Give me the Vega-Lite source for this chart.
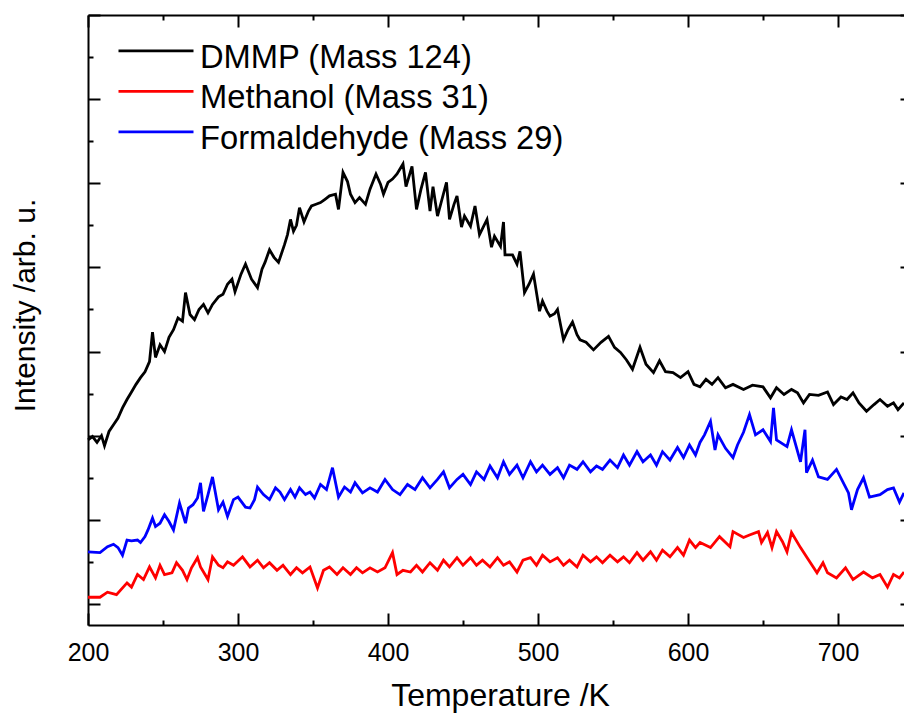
{
  "$schema": "https://vega.github.io/schema/vega-lite/v6.json",
  "autosize": {"type": "none"},
  "padding": {"left": 88, "top": 15, "right": 0, "bottom": 90},
  "width": 816,
  "height": 610,
  "background": "white",
  "config": {
    "view": {"stroke": null},
    "font": "Liberation Sans",
    "axis": {"grid": false, "tickColor": "black", "tickWidth": 2, "domainColor": "black", "domainWidth": 2, "labelColor": "black", "titleColor": "black", "labelFont": "Liberation Sans", "titleFont": "Liberation Sans", "titleFontWeight": "normal"}
  },
  "datasets": {
    "dmmp": [{"T":200,"I":1.95},{"T":203,"I":1.99},{"T":206,"I":1.92},{"T":209,"I":2.00},{"T":211,"I":1.88},{"T":214,"I":2.05},{"T":217,"I":2.13},{"T":220,"I":2.21},{"T":223,"I":2.33},{"T":226,"I":2.43},{"T":229,"I":2.52},{"T":232,"I":2.61},{"T":235,"I":2.69},{"T":238,"I":2.76},{"T":241,"I":2.88},{"T":243,"I":3.23},{"T":245,"I":2.93},{"T":248,"I":3.08},{"T":251,"I":3.00},{"T":254,"I":3.17},{"T":257,"I":3.26},{"T":260,"I":3.40},{"T":263,"I":3.36},{"T":265,"I":3.70},{"T":268,"I":3.44},{"T":271,"I":3.38},{"T":274,"I":3.50},{"T":277,"I":3.56},{"T":280,"I":3.46},{"T":283,"I":3.56},{"T":287,"I":3.65},{"T":290,"I":3.68},{"T":293,"I":3.80},{"T":296,"I":3.86},{"T":298,"I":3.71},{"T":302,"I":3.92},{"T":305,"I":4.04},{"T":309,"I":3.86},{"T":313,"I":3.76},{"T":316,"I":3.98},{"T":318,"I":4.06},{"T":321,"I":4.21},{"T":324,"I":4.12},{"T":327,"I":4.06},{"T":331,"I":4.27},{"T":333,"I":4.39},{"T":335,"I":4.57},{"T":337,"I":4.43},{"T":339,"I":4.50},{"T":341,"I":4.71},{"T":344,"I":4.54},{"T":347,"I":4.67},{"T":349,"I":4.73},{"T":352,"I":4.75},{"T":355,"I":4.77},{"T":358,"I":4.81},{"T":361,"I":4.85},{"T":365,"I":4.87},{"T":367,"I":4.69},{"T":370,"I":5.13},{"T":373,"I":5.02},{"T":375,"I":4.87},{"T":378,"I":4.77},{"T":381,"I":4.83},{"T":385,"I":4.75},{"T":388,"I":4.93},{"T":392,"I":5.11},{"T":395,"I":4.99},{"T":397,"I":4.87},{"T":400,"I":5.01},{"T":403,"I":5.05},{"T":406,"I":5.11},{"T":410,"I":5.23},{"T":412,"I":4.96},{"T":416,"I":5.20},{"T":419,"I":4.69},{"T":422,"I":4.93},{"T":425,"I":5.13},{"T":428,"I":4.67},{"T":430,"I":4.96},{"T":433,"I":4.61},{"T":436,"I":4.81},{"T":439,"I":5.01},{"T":441,"I":4.57},{"T":444,"I":4.75},{"T":446,"I":4.85},{"T":449,"I":4.48},{"T":451,"I":4.61},{"T":455,"I":4.49},{"T":458,"I":4.73},{"T":461,"I":4.39},{"T":466,"I":4.57},{"T":469,"I":4.24},{"T":471,"I":4.37},{"T":475,"I":4.25},{"T":477,"I":4.54},{"T":478,"I":4.15},{"T":483,"I":4.15},{"T":486,"I":4.04},{"T":488,"I":4.19},{"T":491,"I":3.70},{"T":494,"I":3.80},{"T":497,"I":3.92},{"T":501,"I":3.48},{"T":503,"I":3.60},{"T":506,"I":3.48},{"T":508,"I":3.42},{"T":511,"I":3.45},{"T":513,"I":3.50},{"T":517,"I":3.14},{"T":520,"I":3.26},{"T":523,"I":3.35},{"T":526,"I":3.20},{"T":528,"I":3.14},{"T":532,"I":3.11},{"T":537,"I":3.02},{"T":542,"I":3.11},{"T":547,"I":3.18},{"T":551,"I":3.05},{"T":555,"I":2.99},{"T":559,"I":2.90},{"T":563,"I":2.79},{"T":568,"I":3.05},{"T":572,"I":2.85},{"T":577,"I":2.75},{"T":581,"I":2.89},{"T":585,"I":2.76},{"T":590,"I":2.75},{"T":595,"I":2.69},{"T":600,"I":2.76},{"T":604,"I":2.61},{"T":608,"I":2.58},{"T":612,"I":2.67},{"T":616,"I":2.61},{"T":620,"I":2.69},{"T":625,"I":2.57},{"T":630,"I":2.61},{"T":637,"I":2.55},{"T":643,"I":2.60},{"T":650,"I":2.58},{"T":655,"I":2.45},{"T":659,"I":2.57},{"T":664,"I":2.49},{"T":669,"I":2.55},{"T":673,"I":2.51},{"T":677,"I":2.39},{"T":681,"I":2.49},{"T":687,"I":2.48},{"T":693,"I":2.52},{"T":697,"I":2.37},{"T":702,"I":2.46},{"T":706,"I":2.43},{"T":710,"I":2.51},{"T":714,"I":2.39},{"T":719,"I":2.29},{"T":724,"I":2.37},{"T":728,"I":2.43},{"T":733,"I":2.35},{"T":737,"I":2.39},{"T":740,"I":2.31},{"T":744,"I":2.39}],
    "methanol": [{"T":200,"I":0.08},{"T":208,"I":0.08},{"T":213,"I":0.14},{"T":219,"I":0.11},{"T":226,"I":0.25},{"T":229,"I":0.20},{"T":233,"I":0.35},{"T":237,"I":0.29},{"T":241,"I":0.44},{"T":245,"I":0.31},{"T":248,"I":0.46},{"T":251,"I":0.35},{"T":256,"I":0.37},{"T":259,"I":0.49},{"T":263,"I":0.40},{"T":266,"I":0.29},{"T":269,"I":0.43},{"T":273,"I":0.55},{"T":275,"I":0.44},{"T":280,"I":0.29},{"T":283,"I":0.56},{"T":287,"I":0.46},{"T":290,"I":0.43},{"T":293,"I":0.50},{"T":297,"I":0.46},{"T":303,"I":0.56},{"T":308,"I":0.44},{"T":313,"I":0.52},{"T":317,"I":0.43},{"T":321,"I":0.49},{"T":326,"I":0.40},{"T":330,"I":0.46},{"T":335,"I":0.35},{"T":339,"I":0.43},{"T":343,"I":0.37},{"T":348,"I":0.44},{"T":353,"I":0.19},{"T":357,"I":0.40},{"T":361,"I":0.44},{"T":366,"I":0.35},{"T":370,"I":0.43},{"T":375,"I":0.35},{"T":379,"I":0.43},{"T":383,"I":0.37},{"T":388,"I":0.43},{"T":393,"I":0.38},{"T":398,"I":0.43},{"T":403,"I":0.61},{"T":406,"I":0.35},{"T":410,"I":0.40},{"T":415,"I":0.38},{"T":419,"I":0.46},{"T":423,"I":0.38},{"T":428,"I":0.49},{"T":433,"I":0.40},{"T":437,"I":0.52},{"T":441,"I":0.44},{"T":446,"I":0.55},{"T":450,"I":0.46},{"T":455,"I":0.55},{"T":459,"I":0.46},{"T":463,"I":0.52},{"T":468,"I":0.44},{"T":473,"I":0.55},{"T":477,"I":0.46},{"T":481,"I":0.50},{"T":486,"I":0.38},{"T":490,"I":0.52},{"T":495,"I":0.55},{"T":499,"I":0.46},{"T":503,"I":0.58},{"T":508,"I":0.50},{"T":513,"I":0.55},{"T":517,"I":0.46},{"T":521,"I":0.52},{"T":526,"I":0.44},{"T":530,"I":0.58},{"T":535,"I":0.50},{"T":539,"I":0.56},{"T":543,"I":0.49},{"T":548,"I":0.58},{"T":553,"I":0.50},{"T":557,"I":0.56},{"T":561,"I":0.49},{"T":566,"I":0.61},{"T":570,"I":0.52},{"T":575,"I":0.62},{"T":579,"I":0.52},{"T":583,"I":0.64},{"T":588,"I":0.56},{"T":593,"I":0.67},{"T":597,"I":0.58},{"T":601,"I":0.76},{"T":605,"I":0.67},{"T":608,"I":0.73},{"T":615,"I":0.67},{"T":621,"I":0.80},{"T":628,"I":0.68},{"T":630,"I":0.86},{"T":637,"I":0.79},{"T":641,"I":0.82},{"T":647,"I":0.86},{"T":649,"I":0.73},{"T":653,"I":0.85},{"T":656,"I":0.67},{"T":659,"I":0.86},{"T":663,"I":0.74},{"T":666,"I":0.62},{"T":669,"I":0.85},{"T":675,"I":0.67},{"T":679,"I":0.56},{"T":686,"I":0.37},{"T":690,"I":0.49},{"T":693,"I":0.37},{"T":699,"I":0.31},{"T":705,"I":0.43},{"T":710,"I":0.29},{"T":717,"I":0.38},{"T":723,"I":0.31},{"T":728,"I":0.35},{"T":733,"I":0.20},{"T":737,"I":0.35},{"T":741,"I":0.31},{"T":744,"I":0.38}],
    "formaldehyde": [{"T":200,"I":0.62},{"T":208,"I":0.61},{"T":213,"I":0.68},{"T":217,"I":0.71},{"T":220,"I":0.67},{"T":223,"I":0.58},{"T":226,"I":0.76},{"T":229,"I":0.75},{"T":233,"I":0.76},{"T":235,"I":0.73},{"T":238,"I":0.80},{"T":240,"I":0.88},{"T":243,"I":1.02},{"T":245,"I":0.92},{"T":248,"I":0.96},{"T":251,"I":1.06},{"T":254,"I":0.98},{"T":257,"I":0.88},{"T":261,"I":1.20},{"T":265,"I":0.96},{"T":267,"I":1.14},{"T":270,"I":1.18},{"T":273,"I":1.26},{"T":275,"I":1.44},{"T":277,"I":1.10},{"T":280,"I":1.30},{"T":283,"I":1.51},{"T":287,"I":1.12},{"T":290,"I":1.21},{"T":293,"I":1.04},{"T":297,"I":1.24},{"T":300,"I":1.27},{"T":305,"I":1.15},{"T":308,"I":1.14},{"T":311,"I":1.24},{"T":313,"I":1.39},{"T":317,"I":1.30},{"T":321,"I":1.24},{"T":325,"I":1.38},{"T":328,"I":1.33},{"T":331,"I":1.24},{"T":335,"I":1.36},{"T":338,"I":1.27},{"T":341,"I":1.38},{"T":345,"I":1.30},{"T":348,"I":1.33},{"T":351,"I":1.26},{"T":355,"I":1.42},{"T":359,"I":1.36},{"T":363,"I":1.62},{"T":367,"I":1.27},{"T":371,"I":1.39},{"T":375,"I":1.33},{"T":378,"I":1.44},{"T":383,"I":1.32},{"T":388,"I":1.38},{"T":393,"I":1.33},{"T":398,"I":1.48},{"T":403,"I":1.36},{"T":408,"I":1.30},{"T":413,"I":1.42},{"T":418,"I":1.36},{"T":423,"I":1.50},{"T":428,"I":1.38},{"T":433,"I":1.48},{"T":437,"I":1.57},{"T":441,"I":1.38},{"T":446,"I":1.48},{"T":450,"I":1.54},{"T":455,"I":1.42},{"T":459,"I":1.57},{"T":464,"I":1.48},{"T":468,"I":1.64},{"T":473,"I":1.50},{"T":477,"I":1.69},{"T":481,"I":1.54},{"T":486,"I":1.65},{"T":490,"I":1.50},{"T":495,"I":1.69},{"T":499,"I":1.57},{"T":503,"I":1.65},{"T":508,"I":1.54},{"T":513,"I":1.62},{"T":517,"I":1.50},{"T":521,"I":1.65},{"T":526,"I":1.60},{"T":530,"I":1.69},{"T":535,"I":1.57},{"T":539,"I":1.64},{"T":543,"I":1.60},{"T":548,"I":1.71},{"T":553,"I":1.62},{"T":557,"I":1.77},{"T":561,"I":1.65},{"T":566,"I":1.81},{"T":570,"I":1.69},{"T":575,"I":1.77},{"T":579,"I":1.65},{"T":583,"I":1.81},{"T":588,"I":1.71},{"T":593,"I":1.86},{"T":597,"I":1.74},{"T":601,"I":1.89},{"T":605,"I":1.77},{"T":608,"I":1.92},{"T":611,"I":2.01},{"T":615,"I":2.17},{"T":618,"I":1.83},{"T":620,"I":2.01},{"T":625,"I":1.85},{"T":630,"I":1.74},{"T":633,"I":1.89},{"T":637,"I":2.04},{"T":641,"I":2.25},{"T":645,"I":2.01},{"T":650,"I":2.07},{"T":655,"I":1.93},{"T":657,"I":2.33},{"T":659,"I":1.95},{"T":666,"I":1.87},{"T":669,"I":2.07},{"T":675,"I":1.69},{"T":678,"I":2.07},{"T":679,"I":1.56},{"T":683,"I":1.71},{"T":687,"I":1.51},{"T":693,"I":1.48},{"T":699,"I":1.60},{"T":707,"I":1.32},{"T":709,"I":1.12},{"T":713,"I":1.36},{"T":717,"I":1.50},{"T":721,"I":1.27},{"T":728,"I":1.30},{"T":733,"I":1.36},{"T":737,"I":1.38},{"T":741,"I":1.21},{"T":744,"I":1.32}]
  },
  "resolve": {"axis": {"x": "independent", "y": "independent"}},
  "layer": [
    {
      "data": {"name": "dmmp"},
      "mark": {"type": "line", "strokeWidth": 2.8},
      "encoding": {
        "x": {"field": "T", "type": "quantitative", "scale": {"domain": [200, 744], "nice": false, "zero": false},
          "axis": {"orient": "bottom", "values": [200, 300, 400, 500, 600, 700], "tickSize": -12, "labelFontSize": 25, "labelPadding": 27, "labelBaseline": "top", "labelFlush": false, "labelOverlap": false, "title": "Temperature /K", "titleFontSize": 32, "titleX": 412, "titleY": 80, "titleBaseline": "alphabetic"}},
        "y": {"field": "I", "type": "quantitative", "scale": {"domain": [-0.25, 7], "nice": false, "zero": false},
          "axis": {"orient": "left", "values": [0, 1, 2, 3, 4, 5, 6, 7], "tickSize": -12, "labels": false, "title": "Intensity /arb. u.", "titleFontSize": 30, "titleX": -54, "titleY": 290, "titleBaseline": "alphabetic", "titleAngle": 270}},
        "color": {"datum": "DMMP (Mass 124)", "type": "nominal",
          "scale": {"domain": ["DMMP (Mass 124)", "Methanol (Mass 31)", "Formaldehyde (Mass 29)"], "range": ["#000000", "#ff0000", "#0000ff"]},
          "legend": {"orient": "none", "legendX": 29, "legendY": 22.6, "title": null, "symbolType": "M-1,-0.18L1,-0.18", "symbolSize": 5625, "symbolStrokeWidth": 2.8, "labelFontSize": 32.7, "labelFont": "Liberation Sans", "labelColor": "black", "labelOffset": 5, "clipHeight": 40, "rowPadding": 0.5, "padding": 0, "labelLimit": 0}}
      }
    },
    {
      "data": {"name": "methanol"},
      "mark": {"type": "line", "strokeWidth": 2.8},
      "encoding": {
        "x": {"field": "T", "type": "quantitative", "scale": {"domain": [200, 744], "nice": false, "zero": false},
          "axis": {"orient": "top", "values": [200, 300, 400, 500, 600, 700], "tickSize": -12, "labels": false, "title": null}},
        "y": {"field": "I", "type": "quantitative", "scale": {"domain": [-0.25, 7], "nice": false, "zero": false},
          "axis": {"orient": "left", "values": [0.5, 1.5, 2.5, 3.5, 4.5, 5.5, 6.5], "tickSize": -5, "labels": false, "domain": false, "title": null}},
        "color": {"datum": "Methanol (Mass 31)", "type": "nominal"}
      }
    },
    {
      "data": {"name": "formaldehyde"},
      "mark": {"type": "line", "strokeWidth": 2.8},
      "encoding": {
        "x": {"field": "T", "type": "quantitative", "scale": {"domain": [200, 744], "nice": false, "zero": false},
          "axis": {"orient": "bottom", "values": [250, 350, 450, 550, 650], "tickSize": -5, "labels": false, "domain": false, "title": null}},
        "y": {"field": "I", "type": "quantitative", "scale": {"domain": [-0.25, 7], "nice": false, "zero": false},
          "axis": {"orient": "right", "values": [0, 1, 2, 3, 4, 5, 6, 7], "tickSize": -12, "offset": 8, "labels": false, "domain": false, "title": null}},
        "color": {"datum": "Formaldehyde (Mass 29)", "type": "nominal"}
      }
    },
    {
      "data": {"name": "dmmp"},
      "mark": {"type": "line", "opacity": 0},
      "encoding": {
        "x": {"field": "T", "type": "quantitative", "scale": {"domain": [200, 744], "nice": false, "zero": false},
          "axis": {"orient": "top", "values": [250, 350, 450, 550, 650], "tickSize": -5, "labels": false, "domain": false, "title": null}},
        "y": {"field": "I", "type": "quantitative", "axis": null}
      }
    }
  ]
}
